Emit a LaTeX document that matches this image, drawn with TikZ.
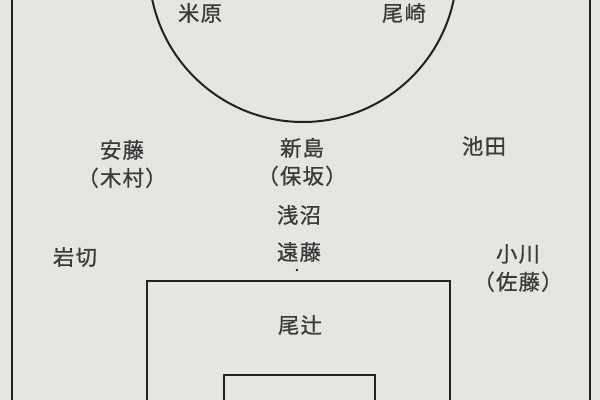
\documentclass[tikz,border=0pt]{standalone}
\usepackage{fontspec}
\newfontfamily\jpfont[LetterSpace=6,FakeBold=0.8]{Noto Sans CJK JP}
\definecolor{paper}{HTML}{E6E5E2}
\definecolor{ink}{HTML}{222222}
\definecolor{pen}{HTML}{3A3A3A}
\begin{document}
\begin{tikzpicture}[x=0.75pt,y=-0.75pt,
  player/.style={font=\jpfont\fontsize{16}{21}\selectfont,text=pen,align=center,inner sep=0pt},
  pitch/.style={draw=ink,line width=1.5pt}]
\fill[paper] (0,0) rectangle (600,400);
\useasboundingbox (0,0) rectangle (600,400);
% field lines
\begin{scope}
\clip (0,0) rectangle (600,400);
\draw[pitch] (12,-5) -- (12,405);
\draw[pitch] (590,-5) -- (590,405);
\draw[pitch] (303,-32) circle (154);
\draw[pitch] (147,405) |- (450,281) -- (450,405);
\draw[pitch] (224,405) |- (375,375) -- (375,405);
\end{scope}
\fill[ink] (297,270) circle (1.3);
% players
\node[player] (yonehara) at (200,13) {米原};
\node[player] (ozaki) at (404,13) {尾崎};
\node[player] (ando) at (122,164) {安藤\\（木村）};
\node[player] (niijima) at (302,162) {新島\\（保坂）};
\node[player] (ikeda) at (484,146) {池田};
\node[player] (asanuma) at (299,215) {浅沼};
\node[player] (endo) at (299,252) {遠藤};
\node[player] (iwakiri) at (75,257) {岩切};
\node[player] (ogawa) at (518,268) {小川\\（佐藤）};
\node[player] (otsuji) at (300,325) {尾辻};
\end{tikzpicture}
\end{document}
